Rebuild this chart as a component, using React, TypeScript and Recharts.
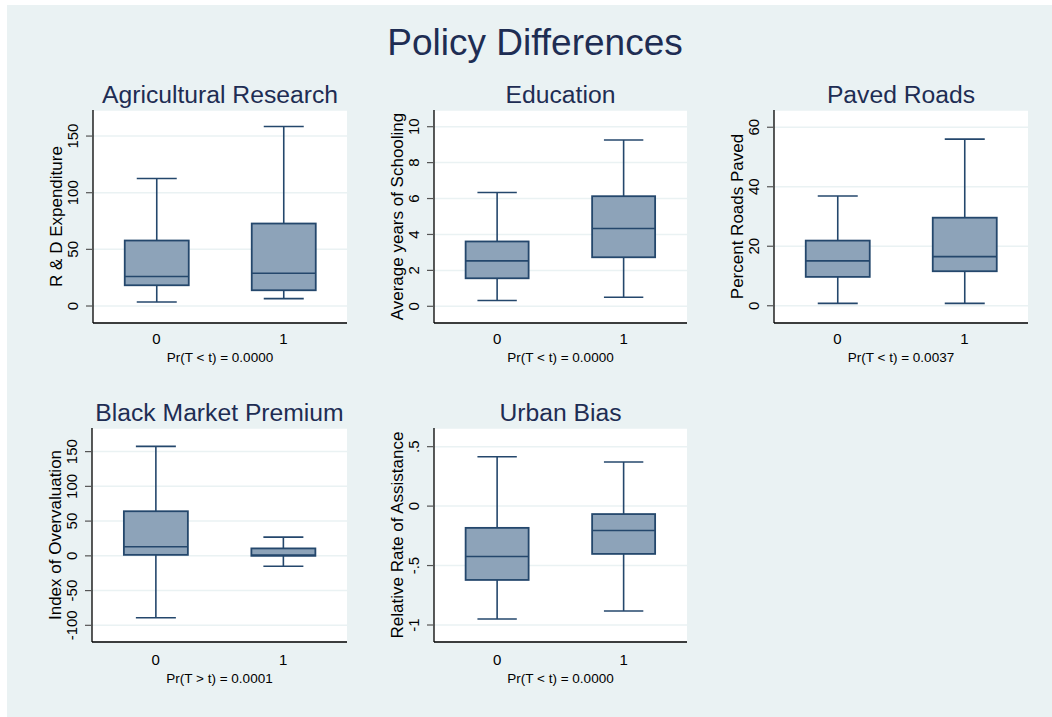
import React from "react";
import { ComposedChart, Bar, XAxis, YAxis, CartesianGrid } from "recharts";

// groups on the x axis of every panel
const groups = ["0", "1"];

// Agricultural Research (R & D Expenditure)
const agriLow = [3.5, 6.5];
const agriQ1 = [18.3, 13.9];
const agriMed = [26, 28.9];
const agriQ3 = [57.8, 72.8];
const agriHigh = [112.6, 158.4];
const agriTicks = [0, 50, 100, 150];

// Education (Average years of Schooling)
const eduLow = [0.32, 0.5];
const eduQ1 = [1.56, 2.73];
const eduMed = [2.53, 4.33];
const eduQ3 = [3.61, 6.13];
const eduHigh = [6.34, 9.26];
const eduTicks = [0, 2, 4, 6, 8, 10];

// Paved Roads (Percent Roads Paved)
const roadLow = [0.8, 0.8];
const roadQ1 = [9.7, 11.6];
const roadMed = [15.1, 16.5];
const roadQ3 = [21.9, 29.6];
const roadHigh = [36.9, 56.0];
const roadTicks = [0, 20, 40, 60];

// Black Market Premium (Index of Overvaluation)
const bmpLow = [-89, -14.9];
const bmpQ1 = [1.4, 0];
const bmpMed = [13, 1];
const bmpQ3 = [64.2, 10.7];
const bmpHigh = [157.5, 27];
const bmpTicks = [-100, -50, 0, 50, 100, 150];

// Urban Bias (Relative Rate of Assistance)
const urbLow = [-0.95, -0.882];
const urbQ1 = [-0.621, -0.402];
const urbMed = [-0.424, -0.205];
const urbQ3 = [-0.183, -0.067];
const urbHigh = [0.415, 0.371];
const urbTicks = [-1, -0.5, 0, 0.5];

const FONT = "'Liberation Sans', Arial, Helvetica, sans-serif";
const TITLE = "#1E2D53";
const BOX_FILL = "#8DA3B9";
const BOX_LINE = "#24476C";
const BG = "#EAF2F3";

const fmtDot = (v: number) => String(v).replace("0.", ".");

const panels = [
  {
    title: "Agricultural Research",
    yLabel: "R & D Expenditure",
    pLabel: "Pr(T < t) = 0.0000",
    rect: { x: 93, y: 110, w: 254, h: 213 },
    domain: [-15, 173],
    ticks: agriTicks,
    low: agriLow, q1: agriQ1, med: agriMed, q3: agriQ3, high: agriHigh,
  },
  {
    title: "Education",
    yLabel: "Average years of Schooling",
    pLabel: "Pr(T < t) = 0.0000",
    rect: { x: 434, y: 110, w: 253, h: 213 },
    domain: [-0.93, 10.93],
    ticks: eduTicks,
    low: eduLow, q1: eduQ1, med: eduMed, q3: eduQ3, high: eduHigh,
  },
  {
    title: "Paved Roads",
    yLabel: "Percent Roads Paved",
    pLabel: "Pr(T < t) = 0.0037",
    rect: { x: 774, y: 110, w: 254, h: 213 },
    domain: [-5.8, 65.8],
    ticks: roadTicks,
    low: roadLow, q1: roadQ1, med: roadMed, q3: roadQ3, high: roadHigh,
  },
  {
    title: "Black Market Premium",
    yLabel: "Index of Overvaluation",
    pLabel: "Pr(T > t) = 0.0001",
    rect: { x: 92, y: 428, w: 255, h: 214 },
    domain: [-124, 184],
    ticks: bmpTicks,
    low: bmpLow, q1: bmpQ1, med: bmpMed, q3: bmpQ3, high: bmpHigh,
  },
  {
    title: "Urban Bias",
    yLabel: "Relative Rate of Assistance",
    pLabel: "Pr(T < t) = 0.0000",
    rect: { x: 434, y: 428, w: 253, h: 214 },
    domain: [-1.143, 0.657],
    ticks: urbTicks,
    low: urbLow, q1: urbQ1, med: urbMed, q3: urbQ3, high: urbHigh,
  },
];

// draws a whole box plot from the bar spanning the whiskers
function BoxShape(props: any) {
  const { x, y, width, height, payload } = props;
  const top = Math.min(y, y + height);
  const bot = Math.max(y, y + height);
  const { low, high, q1, med, q3 } = payload;
  const px = (v: number) => bot - ((v - low) / (high - low)) * (bot - top);
  const cx = x + width / 2;
  const cap = width * 0.625;
  return (
    <g>
      <line x1={cx} x2={cx} y1={top} y2={px(q3)} stroke={BOX_LINE} strokeWidth={1.6} />
      <line x1={cx} x2={cx} y1={px(q1)} y2={bot} stroke={BOX_LINE} strokeWidth={1.6} />
      <line x1={cx - cap / 2} x2={cx + cap / 2} y1={top} y2={top} stroke={BOX_LINE} strokeWidth={1.6} />
      <line x1={cx - cap / 2} x2={cx + cap / 2} y1={bot} y2={bot} stroke={BOX_LINE} strokeWidth={1.6} />
      <rect
        x={x}
        y={px(q3)}
        width={width}
        height={px(q1) - px(q3)}
        fill={BOX_FILL}
        stroke={BOX_LINE}
        strokeWidth={1.8}
      />
      <line x1={x} x2={x + width} y1={px(med)} y2={px(med)} stroke={BOX_LINE} strokeWidth={1.6} />
    </g>
  );
}

function YTick(props: any) {
  const { x, y, payload, fmt } = props;
  return (
    <text
      x={x}
      y={y}
      transform={`rotate(-90, ${x}, ${y})`}
      textAnchor="middle"
      fontSize={15}
      fontFamily={FONT}
      fill="#000"
    >
      {fmt(payload.value)}
    </text>
  );
}

const PAD_L = 60;
const PAD_T = 20;
const PAD_R = 10;
const PAD_B = 50;

function Panel({ p, row }: { p: (typeof panels)[number]; row: number }) {
  const data = groups.map((g, i) => ({
    group: g,
    low: p.low[i],
    q1: p.q1[i],
    med: p.med[i],
    q3: p.q3[i],
    high: p.high[i],
  }));
  const fmt = p.title === "Urban Bias" ? fmtDot : (v: number) => String(v);
  return (
    <ComposedChart
      width={p.rect.w + PAD_L + PAD_R}
      height={p.rect.h + PAD_T + PAD_B}
      data={data}
      margin={{ top: PAD_T, right: PAD_R, left: 0, bottom: 0 }}
      barCategoryGap="25%"
      style={{ position: "absolute", left: p.rect.x - PAD_L, top: p.rect.y - PAD_T }}
    >
      <CartesianGrid vertical={false} fill="#fff" stroke={BG} strokeWidth={1.5} />
      <XAxis
        dataKey="group"
        height={PAD_B}
        tickLine={false}
        tickSize={0}
        tickMargin={row === 0 ? 10 : 12}
        axisLine={{ stroke: "#000", strokeWidth: 1.3 }}
        tick={{ fontSize: 15, fill: "#000", fontFamily: FONT }}
      />
      <YAxis
        width={PAD_L}
        type="number"
        domain={p.domain}
        ticks={p.ticks}
        interval={0}
        allowDataOverflow
        tickSize={7}
        tickMargin={8}
        axisLine={{ stroke: "#000", strokeWidth: 1.3 }}
        tickLine={{ stroke: "#555", strokeWidth: 1.2 }}
        tick={<YTick fmt={fmt} />}
      />
      <Bar
        dataKey={(d: any) => [d.low, d.high]}
        shape={<BoxShape />}
        isAnimationActive={false}
      />
    </ComposedChart>
  );
}

export default function App() {
  return (
    <div
      style={{
        position: "absolute",
        left: 0,
        top: 0,
        width: 1052,
        height: 717,
        background: "#fff",
        overflow: "hidden",
      }}
    >
      <svg width={1052} height={717} style={{ position: "absolute", left: 0, top: 0 }}>
        <rect x={7} y={5} width={1045} height={712} fill={BG} />
        <text x={535} y={55} textAnchor="middle" fontSize={37} fontFamily={FONT} fill={TITLE}>
          Policy Differences
        </text>
        {panels.map((p, i) => {
          const row = i < 3 ? 0 : 1;
          const cx = p.rect.x + p.rect.w / 2;
          const cy = p.rect.y + p.rect.h / 2;
          const lx = p.rect.x - 31;
          return (
            <g key={p.title}>
              <text x={cx} y={p.rect.y - 7} textAnchor="middle" fontSize={24.7} fontFamily={FONT} fill={TITLE}>
                {p.title}
              </text>
              <text
                x={lx}
                y={cy}
                transform={`rotate(-90, ${lx}, ${cy})`}
                textAnchor="middle"
                fontSize={17}
                fontFamily={FONT}
                fill="#000"
              >
                {p.yLabel}
              </text>
              <text
                x={cx}
                y={p.rect.y + p.rect.h + (row === 0 ? 39 : 41)}
                textAnchor="middle"
                fontSize={13.5}
                fontFamily={FONT}
                fill="#000"
              >
                {p.pLabel}
              </text>
            </g>
          );
        })}
      </svg>
      {panels.map((p, i) => (
        <Panel key={p.title} p={p} row={i < 3 ? 0 : 1} />
      ))}
    </div>
  );
}
